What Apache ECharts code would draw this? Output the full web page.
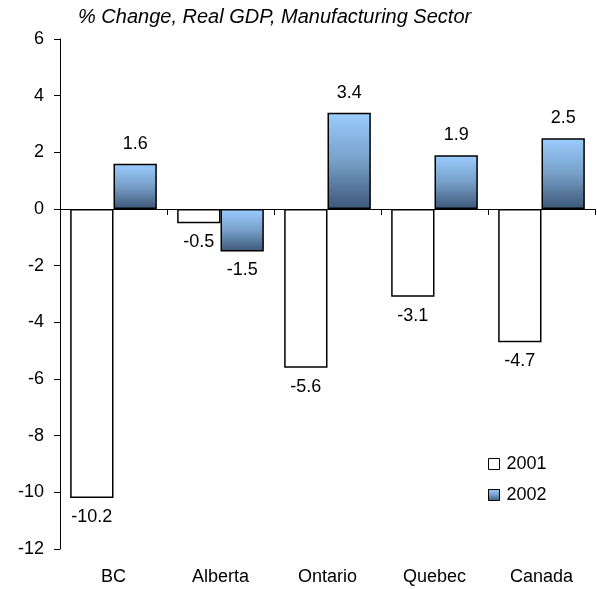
<!DOCTYPE html>
<html><head><meta charset="utf-8">
<script src="https://cdn.jsdelivr.net/npm/echarts@6/dist/echarts.min.js"></script>
<style>html,body{margin:0;padding:0;background:#fff}#c{width:597px;height:589px}</style>
</head><body><div id="c"></div>
<script>
const categories = ['BC', 'Alberta', 'Ontario', 'Quebec', 'Canada'];
const values2001 = [-10.2, -0.5, -5.6, -3.1, -4.7];
const values2002 = [1.6, -1.5, 3.4, 1.9, 2.5];
const seriesNames = ['2001', '2002'];
const titleText = '% Change, Real GDP, Manufacturing Sector';

const font = 'Liberation Sans, Arial, sans-serif';
const grad = new echarts.graphic.LinearGradient(0, 0, 0, 1, [
  {offset: 0, color: '#9bcdff'},
  {offset: 0.5, color: '#779fc8'},
  {offset: 1, color: '#3d5878'}
]);
const chart = echarts.init(document.getElementById('c'), null, {renderer: 'canvas'});
chart.setOption({
  animation: false,
  backgroundColor: '#fff',
  title: {
    text: titleText, left: 73, top: 2,
    textStyle: {fontFamily: font, fontSize: 20, fontStyle: 'italic', fontWeight: 'normal', color: '#000'}
  },
  legend: {
    orient: 'vertical', left: 483, top: 450, itemWidth: 11, itemHeight: 11, itemGap: 13, icon: 'rect',
    textStyle: {fontFamily: font, fontSize: 18, color: '#000', padding: [0, 0, 0, 2]},
    data: [
      {name: seriesNames[0], itemStyle: {color: '#fff', borderColor: '#000', borderWidth: 1}},
      {name: seriesNames[1], itemStyle: {color: grad, borderColor: '#000', borderWidth: 1}}
    ]
  },
  grid: {left: 60, right: 2, top: 39, bottom: 40},
  xAxis: [
    {type: 'category', data: categories, position: 'bottom',
     axisLine: {show: false, onZero: false}, axisTick: {show: false},
     axisLabel: {fontFamily: font, fontSize: 18, color: '#000', margin: 19}},
    {type: 'category', data: categories, position: 'bottom',
     axisLine: {show: true, onZero: true, lineStyle: {color: '#000', width: 1}},
     axisTick: {show: true, length: 6, lineStyle: {color: '#000'}},
     axisLabel: {show: false}}
  ],
  yAxis: {
    type: 'value', min: -12, max: 6, interval: 2,
    splitLine: {show: false},
    axisLine: {show: true, lineStyle: {color: '#000'}},
    axisTick: {show: true, length: 6, lineStyle: {color: '#000'}},
    axisLabel: {fontFamily: font, fontSize: 18, color: '#000', margin: 16}
  },
  series: [
    {name: seriesNames[0], type: 'bar', data: values2001, barGap: '0%', barCategoryGap: '19%',
     itemStyle: {color: '#fff', borderColor: '#000', borderWidth: 1.5},
     label: {show: true, position: 'bottom', distance: 10, fontFamily: font, fontSize: 18, color: '#000', formatter: p => p.value.toFixed(1)}},
    {name: seriesNames[1], type: 'bar', barGap: '0%', barCategoryGap: '19%',
     data: values2002.map(v => ({value: v, label: {position: v < 0 ? 'bottom' : 'top', distance: v < 0 ? 10 : 11}})),
     itemStyle: {color: grad, borderColor: '#000', borderWidth: 1.5},
     label: {show: true, fontFamily: font, fontSize: 18, color: '#000', formatter: p => p.value.toFixed(1)}}
  ]
});
</script></body></html>
